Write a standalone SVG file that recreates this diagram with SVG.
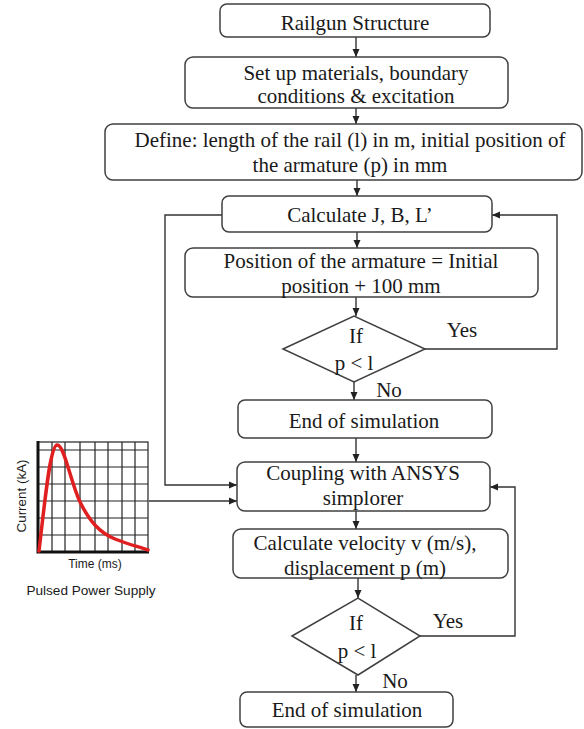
<svg xmlns="http://www.w3.org/2000/svg" width="584" height="729" viewBox="0 0 584 729">
<style>
.box{fill:#fff;stroke:#404040;stroke-width:1.5}
.t{font-family:"Liberation Serif","Times New Roman",serif;font-size:21px;fill:#1a1a1a;text-anchor:middle}
.s{font-family:"Liberation Sans",Arial,sans-serif;fill:#1a1a1a;text-anchor:middle}
.ln{fill:none;stroke:#333;stroke-width:1.4}
.grid{stroke:#222;stroke-width:1.2}
</style>
<defs>
<marker id="ah" markerUnits="userSpaceOnUse" markerWidth="9" markerHeight="8" refX="8" refY="4" orient="auto">
<path d="M0,0.5 L8,4 L0,7.5 z" fill="#222"/>
</marker>
</defs>
<rect width="584" height="729" fill="#fff"/>

<g id="connectors">
<path class="ln" d="M356,37 V57" marker-end="url(#ah)"/>
<path class="ln" d="M356,108 V124" marker-end="url(#ah)"/>
<path class="ln" d="M357,180 V196" marker-end="url(#ah)"/>
<path class="ln" d="M357,232 V248" marker-end="url(#ah)"/>
<path class="ln" d="M356,297 V316" marker-end="url(#ah)"/>
<path class="ln" d="M354,382 V400" marker-end="url(#ah)"/>
<path class="ln" d="M356,438 V462" marker-end="url(#ah)"/>
<path class="ln" d="M356,511 V529" marker-end="url(#ah)"/>
<path class="ln" d="M358,578 V598" marker-end="url(#ah)"/>
<path class="ln" d="M356,675 V692" marker-end="url(#ah)"/>
<path class="ln" d="M222,215 H165 V485 H237" marker-end="url(#ah)"/>
<path class="ln" d="M425,349 H557 V215 H492" marker-end="url(#ah)"/>
<path class="ln" d="M420,636 H515 V487 H490" marker-end="url(#ah)"/>
<path class="ln" d="M149,501 H237" marker-end="url(#ah)"/>
</g>

<g id="railgun">
<rect class="box" x="220" y="4" width="270" height="33" rx="7"/>
<text class="t" x="355" y="30">Railgun Structure</text>
</g>
<g id="setup">
<rect class="box" x="185" y="57" width="323" height="51" rx="8"/>
<text class="t" x="356" y="80">Set up materials, boundary</text>
<text class="t" x="356" y="103">conditions &amp; excitation</text>
</g>
<g id="define">
<rect class="box" x="105" y="124" width="477" height="56" rx="8"/>
<text class="t" x="350" y="147">Define: length of the rail (l) in m, initial position of</text>
<text class="t" x="350" y="172">the armature (p) in mm</text>
</g>
<g id="calcJBL">
<rect class="box" x="222" y="196" width="270" height="36" rx="7"/>
<text class="t" x="360" y="222">Calculate J, B, L’</text>
</g>
<g id="position">
<rect class="box" x="185" y="248" width="353" height="49" rx="8"/>
<text class="t" x="361" y="268">Position of the armature = Initial</text>
<text class="t" x="361" y="293">position + 100 mm</text>
</g>
<g id="decision1">
<polygon class="box" points="283,349 354,316 425,349 354,382"/>
<text class="t" x="356" y="343">If</text>
<text class="t" x="354" y="370">p &lt; l</text>
<text class="t" x="462" y="337">Yes</text>
<text class="t" x="389" y="397">No</text>
</g>
<g id="end1">
<rect class="box" x="238" y="400" width="254" height="38" rx="7"/>
<text class="t" x="364" y="428">End of simulation</text>
</g>
<g id="coupling">
<rect class="box" x="237" y="462" width="253" height="49" rx="8"/>
<text class="t" x="363" y="480">Coupling with ANSYS</text>
<text class="t" x="363" y="505">simplorer</text>
</g>
<g id="velocity">
<rect class="box" x="233" y="529" width="275" height="49" rx="8"/>
<text class="t" x="365" y="550">Calculate velocity v (m/s),</text>
<text class="t" x="365" y="575">displacement p (m)</text>
</g>
<g id="decision2">
<polygon class="box" points="292,636 358,598 420,636 358,675"/>
<text class="t" x="356" y="630">If</text>
<text class="t" x="357" y="658">p &lt; l</text>
<text class="t" x="448" y="628">Yes</text>
<text class="t" x="395" y="688">No</text>
</g>
<g id="end2">
<rect class="box" x="240" y="692" width="213" height="35" rx="7"/>
<text class="t" x="347" y="717">End of simulation</text>
</g>

<g id="pulsed-power-supply">
<rect x="38" y="442" width="110" height="110" fill="#fff" stroke="#222" stroke-width="1.2"/>
<g class="grid">
<line x1="52" y1="442" x2="52" y2="552"/>
<line x1="65" y1="442" x2="65" y2="552"/>
<line x1="80" y1="442" x2="80" y2="552"/>
<line x1="95" y1="442" x2="95" y2="552"/>
<line x1="108" y1="442" x2="108" y2="552"/>
<line x1="122" y1="442" x2="122" y2="552"/>
<line x1="135" y1="442" x2="135" y2="552"/>
<line x1="38" y1="450" x2="148" y2="450"/>
<line x1="38" y1="467" x2="148" y2="467"/>
<line x1="38" y1="484" x2="148" y2="484"/>
<line x1="38" y1="501" x2="148" y2="501"/>
<line x1="38" y1="518" x2="148" y2="518"/>
<line x1="38" y1="535" x2="148" y2="535"/>
</g>
<path d="M38,441 V552 H149" fill="none" stroke="#111" stroke-width="3"/>
<path d="M39,551 C45,500 50,446 57,445 C64,444 70,480 80,502 C90,522 100,533 115,539 C130,545 140,547 148,550" fill="none" stroke="#e02020" stroke-width="3.5" stroke-linecap="round"/>
<text class="s" font-size="13.4" transform="translate(26,496) rotate(-90)">Current (kA)</text>
<text class="s" font-size="12" x="95" y="568">Time (ms)</text>
<text class="s" font-size="13.6" x="91" y="595">Pulsed Power Supply</text>
</g>
</svg>
